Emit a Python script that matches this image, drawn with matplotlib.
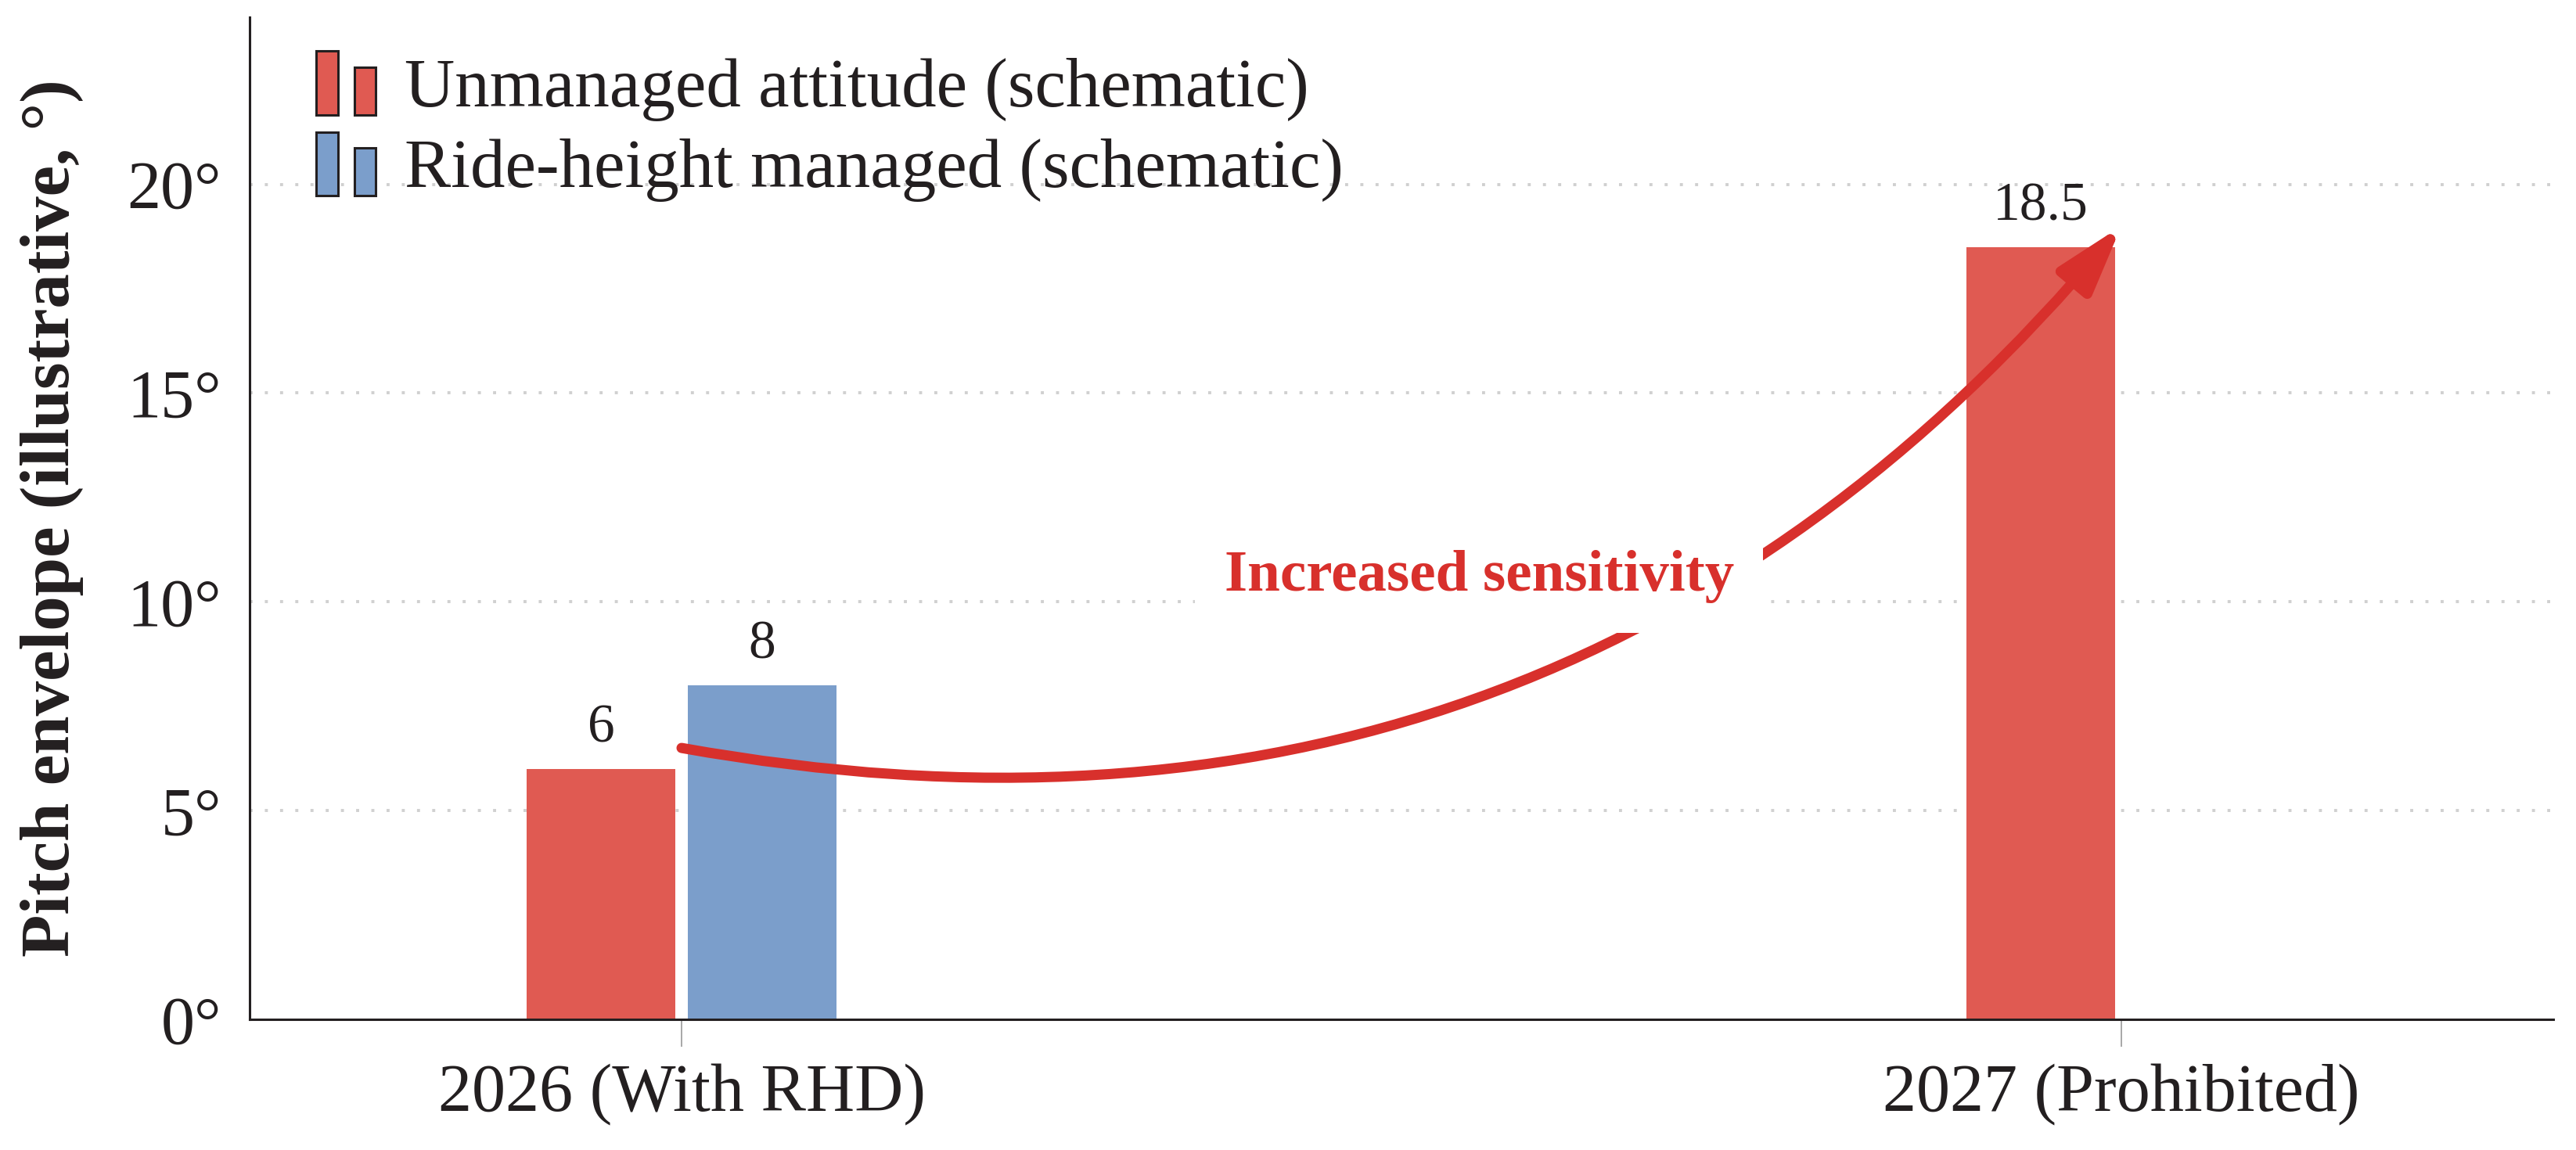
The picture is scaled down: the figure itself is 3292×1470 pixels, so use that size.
import numpy as np
import matplotlib
matplotlib.use("Agg")
import matplotlib.pyplot as plt
from matplotlib.patches import Rectangle
from matplotlib.legend_handler import HandlerBase

# data
categories = ["2026 (With RHD)", "2027 (Prohibited)"]
unmanaged = [6, 18.5]
managed = [8, np.nan]
series_names = ["Unmanaged attitude (schematic)", "Ride-height managed (schematic)"]
y_ticks = [0, 5, 10, 15, 20]

RED = "#e05a52"
BLUE = "#7b9ecb"
ARROW = "#d8302c"
INK = "#231f20"

plt.rcParams["font.family"] = ["Liberation Serif", "DejaVu Serif"]
plt.rcParams["mathtext.fontset"] = "stix"


class TwoBarHandler(HandlerBase):
    # little two-bar icon used in the legend
    def __init__(self, color):
        super().__init__()
        self.color = color

    def create_artists(self, legend, orig_handle, xdescent, ydescent,
                       width, height, fontsize, trans):
        w = width * 0.36
        r1 = Rectangle((-xdescent, -ydescent - 0.12 * height), w, height * 1.2,
                       facecolor=self.color, edgecolor=INK, lw=1.1, transform=trans)
        r2 = Rectangle((-xdescent + width - w, -ydescent - 0.12 * height), w, height * 0.9,
                       facecolor=self.color, edgecolor=INK, lw=1.1, transform=trans)
        return [r1, r2]


fig = plt.figure(figsize=(16.46, 7.35), dpi=200)
ax = fig.add_axes([0.0969, 0.1136, 0.8943, 0.8714])

x = np.arange(len(categories))
bw = 0.103
off = 0.056
b1 = ax.bar(x - off, unmanaged, bw, color=RED, zorder=2, label=series_names[0])
b2 = ax.bar(x + off, managed, bw, color=BLUE, zorder=2, label=series_names[1])

ax.bar_label(b1, labels=[f"{v:g}" for v in unmanaged], padding=7, fontsize=25, color=INK)
ax.bar_label(b2, labels=["" if np.isnan(v) else f"{v:g}" for v in managed],
             padding=7, fontsize=25, color=INK)

ax.set_xlim(-0.3, 1.3)
ax.set_ylim(0, 24)
ax.set_xticks(x)
ax.set_xticklabels(categories, fontsize=31, color=INK)
ax.set_yticks(y_ticks)
ax.set_yticklabels([f"{t}°" for t in y_ticks], fontsize=31, color=INK)
ax.tick_params(axis="x", length=12.6, width=0.6, color="#999999", pad=8)
ax.tick_params(axis="y", length=0, pad=13)

ax.set_ylabel("Pitch envelope (illustrative, °)", fontsize=32,
              fontweight="bold", color=INK, labelpad=20)

for s in ["top", "right"]:
    ax.spines[s].set_visible(False)
for s in ["left", "bottom"]:
    ax.spines[s].set_color(INK)
    ax.spines[s].set_linewidth(1.1)

ax.set_axisbelow(True)
ax.yaxis.grid(True, color="#d0d0d0", linestyle=(0, (1, 4)), linewidth=1.4)
for gl in ax.yaxis.get_gridlines()[:1]:
    gl.set_visible(False)

# curved arrow between the unmanaged bars
ax.annotate("", xy=(x[1], unmanaged[1] + 0.5), xytext=(x[0], unmanaged[0] + 0.5),
            arrowprops=dict(arrowstyle="-|>,head_length=0.65,head_width=0.2",
                            connectionstyle="arc3,rad=0.29", color=ARROW, lw=4.7,
                            mutation_scale=40, shrinkA=0, shrinkB=0),
            zorder=4)
ax.text(0.554, 10.6, "Increased sensitivity", fontsize=27, fontweight="bold",
        color=ARROW, ha="center", va="center", zorder=5,
        bbox=dict(boxstyle="square,pad=0.5", facecolor="white", edgecolor="none"))

ax.legend([b1, b2], series_names,
          handler_map={b1: TwoBarHandler(RED), b2: TwoBarHandler(BLUE)},
          loc="upper left", bbox_to_anchor=(0.029, 0.962), frameon=False,
          fontsize=32, handlelength=0.85, handleheight=0.8, handletextpad=0.42,
          labelspacing=0.22, borderpad=0, borderaxespad=0, labelcolor=INK)

fig.savefig("out.png", dpi=200)
